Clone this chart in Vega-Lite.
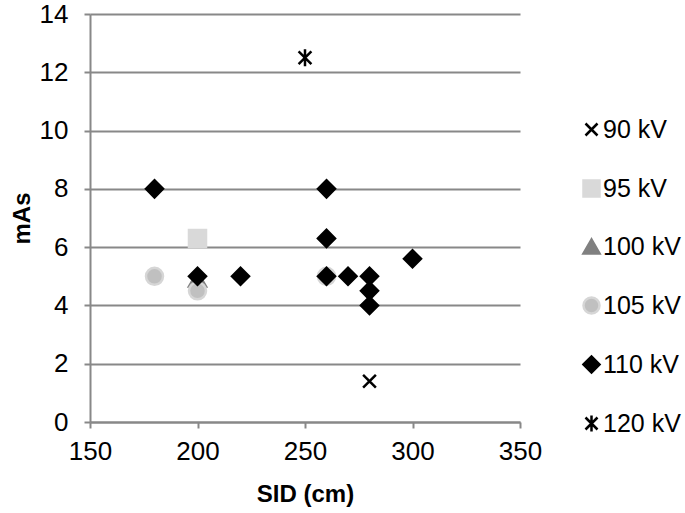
{
  "$schema": "https://vega.github.io/schema/vega-lite/v6.json",
  "width": 430,
  "height": 408,
  "autosize": {"type": "none"},
  "padding": {"left": 90, "top": 14, "right": 165, "bottom": 91},
  "background": "white",
  "config": {
    "view": {"stroke": null},
    "font": "Liberation Sans",
    "axis": {
      "labelFont": "Liberation Sans",
      "labelFontSize": 26,
      "labelColor": "black",
      "labelFlush": false,
      "labelOverlap": false,
      "titleFont": "Liberation Sans",
      "titleFontSize": 24,
      "titleFontWeight": "bold",
      "titleColor": "black",
      "domainColor": "#888888",
      "domainWidth": 2,
      "tickColor": "#888888",
      "tickWidth": 2,
      "tickSize": 6,
      "gridColor": "#888888",
      "gridWidth": 2
    },
    "legend": {
      "labelFont": "Liberation Sans",
      "labelFontSize": 25,
      "labelColor": "black",
      "padding": 0
    }
  },
  "data": {
    "values": [
      {"SID": 280, "mAs": 1.4, "kV": "90 kV"},
      {"SID": 200, "mAs": 6.3, "kV": "90 kV"},
      {"SID": 200, "mAs": 6.3, "kV": "95 kV"},
      {"SID": 200, "mAs": 4.9, "kV": "100 kV"},
      {"SID": 180, "mAs": 5.0, "kV": "105 kV"},
      {"SID": 200, "mAs": 4.5, "kV": "105 kV"},
      {"SID": 260, "mAs": 5.0, "kV": "105 kV"},
      {"SID": 180, "mAs": 8.0, "kV": "110 kV"},
      {"SID": 200, "mAs": 5.0, "kV": "110 kV"},
      {"SID": 220, "mAs": 5.0, "kV": "110 kV"},
      {"SID": 260, "mAs": 8.0, "kV": "110 kV"},
      {"SID": 260, "mAs": 6.3, "kV": "110 kV"},
      {"SID": 260, "mAs": 5.0, "kV": "110 kV"},
      {"SID": 270, "mAs": 5.0, "kV": "110 kV"},
      {"SID": 280, "mAs": 5.0, "kV": "110 kV"},
      {"SID": 280, "mAs": 4.5, "kV": "110 kV"},
      {"SID": 280, "mAs": 4.0, "kV": "110 kV"},
      {"SID": 300, "mAs": 5.6, "kV": "110 kV"},
      {"SID": 250, "mAs": 12.5, "kV": "120 kV"}
    ]
  },
  "mark": {"type": "point", "size": 290, "strokeWidth": 2.5, "opacity": 1},
  "encoding": {
    "x": {
      "field": "SID",
      "type": "quantitative",
      "title": "SID (cm)",
      "scale": {"domain": [150, 350], "nice": false, "zero": false},
      "axis": {"values": [150, 200, 250, 300, 350], "grid": false, "titlePadding": 18, "labelPadding": 10}
    },
    "y": {
      "field": "mAs",
      "type": "quantitative",
      "title": "mAs",
      "scale": {"domain": [0, 14], "nice": false},
      "axis": {"values": [0, 2, 4, 6, 8, 10, 12, 14], "grid": true, "titlePadding": 5, "labelPadding": 16}
    },
    "shape": {
      "field": "kV",
      "type": "nominal",
      "sort": null,
      "title": null,
      "scale": {
        "domain": ["90 kV", "95 kV", "100 kV", "105 kV", "110 kV", "120 kV"],
        "range": [
          "M-0.75,-0.75L0.75,0.75M0.75,-0.75L-0.75,0.75",
          "square",
          "triangle-up",
          "circle",
          "diamond",
          "M-0.75,-0.75L0.75,0.75M0.75,-0.75L-0.75,0.75M0,-1L0,1"
        ]
      }
    },
    "fill": {
      "field": "kV",
      "type": "nominal",
      "sort": null,
      "title": null,
      "scale": {
        "domain": ["90 kV", "95 kV", "100 kV", "105 kV", "110 kV", "120 kV"],
        "range": ["transparent", "#d9d9d9", "#808080", "#c0c0c0", "#000000", "transparent"]
      }
    },
    "stroke": {
      "field": "kV",
      "type": "nominal",
      "sort": null,
      "title": null,
      "scale": {
        "domain": ["90 kV", "95 kV", "100 kV", "105 kV", "110 kV", "120 kV"],
        "range": ["#000000", "#d9d9d9", "#808080", "#d6d6d6", "#000000", "#000000"]
      },
      "legend": {
        "orient": "none",
        "legendX": 489,
        "legendY": 103,
        "rowPadding": 32,
        "symbolSize": 256,
        "symbolStrokeWidth": 2.5,
        "labelOffset": -1
      }
    }
  }
}
